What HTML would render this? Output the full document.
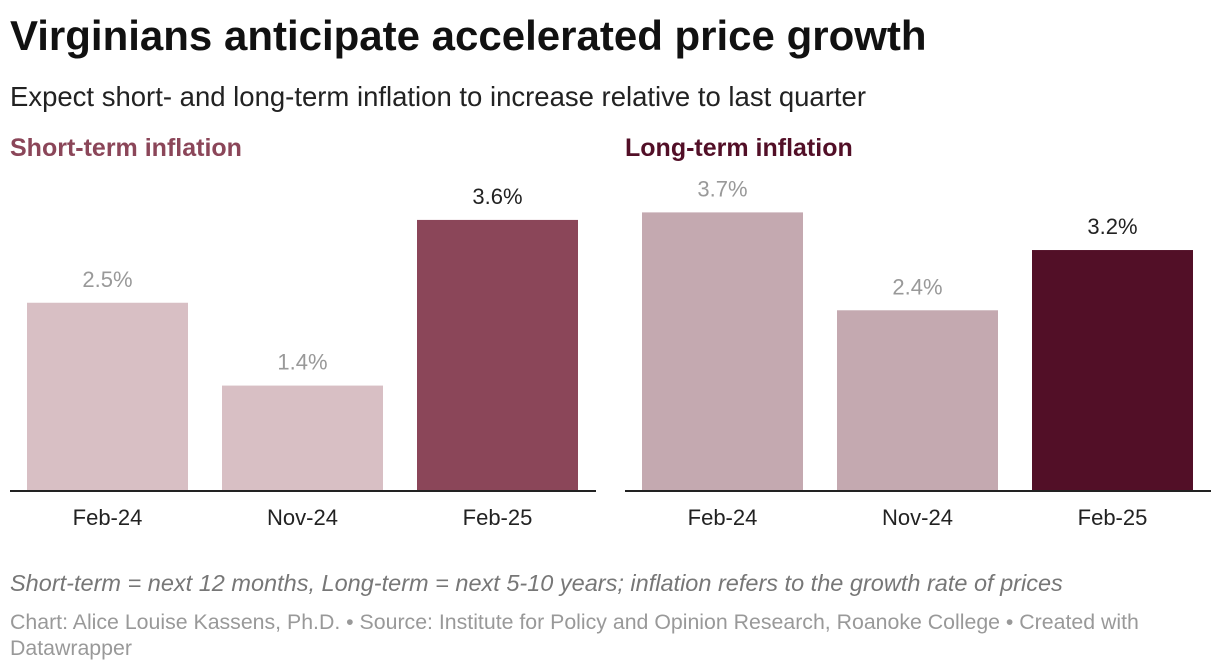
<!DOCTYPE html>
<html><head><meta charset="utf-8"><style>
body{margin:0;width:1220px;height:672px;background:#fff;font-family:"Liberation Sans",sans-serif;overflow:hidden;position:relative}
.t{position:absolute;white-space:nowrap}
</style></head><body>
<div class="t" style="left:10px;top:12px;font-size:42px;font-weight:bold;color:#111;letter-spacing:0px">Virginians anticipate accelerated price growth</div>
<div class="t" style="left:10px;top:81px;font-size:27.5px;color:#222">Expect short- and long-term inflation to increase relative to last quarter</div>
<div class="t" style="left:10px;top:134px;font-size:25px;font-weight:bold;color:#8b4659">Short-term inflation</div>
<div class="t" style="left:625px;top:134px;font-size:25px;font-weight:bold;color:#520f27">Long-term inflation</div>
<svg id="chart" width="1220" height="672" style="position:absolute;left:0;top:0"></svg>
<div class="t" style="left:10px;top:570px;font-size:23.5px;font-style:italic;color:#777">Short-term = next 12 months, Long-term = next 5-10 years; inflation refers to the growth rate of prices</div>
<div class="t" style="left:10px;top:609px;font-size:21.3px;color:#999;line-height:26px">Chart: Alice Louise Kassens, Ph.D. • Source: Institute for Policy and Opinion Research, Roanoke College • Created with<br>Datawrapper</div>
<script>
const categories=["Feb-24","Nov-24","Feb-25"];
const shortTerm=[2.5,1.4,3.6];
const longTerm=[3.7,2.4,3.2];
const valueLabelsShort=["2.5%","1.4%","3.6%"];
const valueLabelsLong=["3.7%","2.4%","3.2%"];
const svg=document.getElementById('chart');
const NS="http://www.w3.org/2000/svg";
const baseY=491,unit=75.3;
const y=v=>baseY-v*unit;
function mk(t,a){const e=document.createElementNS(NS,t);for(const k in a)e.setAttribute(k,a[k]);svg.appendChild(e);return e;}
function panel(x0,vals,labels,light,dark,key){
  const bx=[17,212,407];
  vals.forEach((v,i)=>{
    const last=i===vals.length-1;
    const r=mk('rect',{x:x0+bx[i],y:y(v),width:161,height:v*unit,fill:last?dark:light});
    
    
    const t=mk('text',{x:x0+bx[i]+80.5,y:y(v)-16,'text-anchor':'middle','font-size':22,fill:last?'#222':'#999'});
    t.textContent=labels[i];
    
    
    const c=mk('text',{x:x0+bx[i]+80.5,y:525,'text-anchor':'middle','font-size':22,fill:'#222'});
    c.textContent=categories[i];
    
    
  });
  const l=mk('line',{x1:x0,x2:x0+586,y1:baseY,y2:baseY,stroke:'#222','stroke-width':2});
  
  
}
panel(10,shortTerm,valueLabelsShort,'#d8bfc4','#8b4659','short-term');
panel(625,longTerm,valueLabelsLong,'#c4a9b0','#520f27','long-term');
</script>
</body></html>
